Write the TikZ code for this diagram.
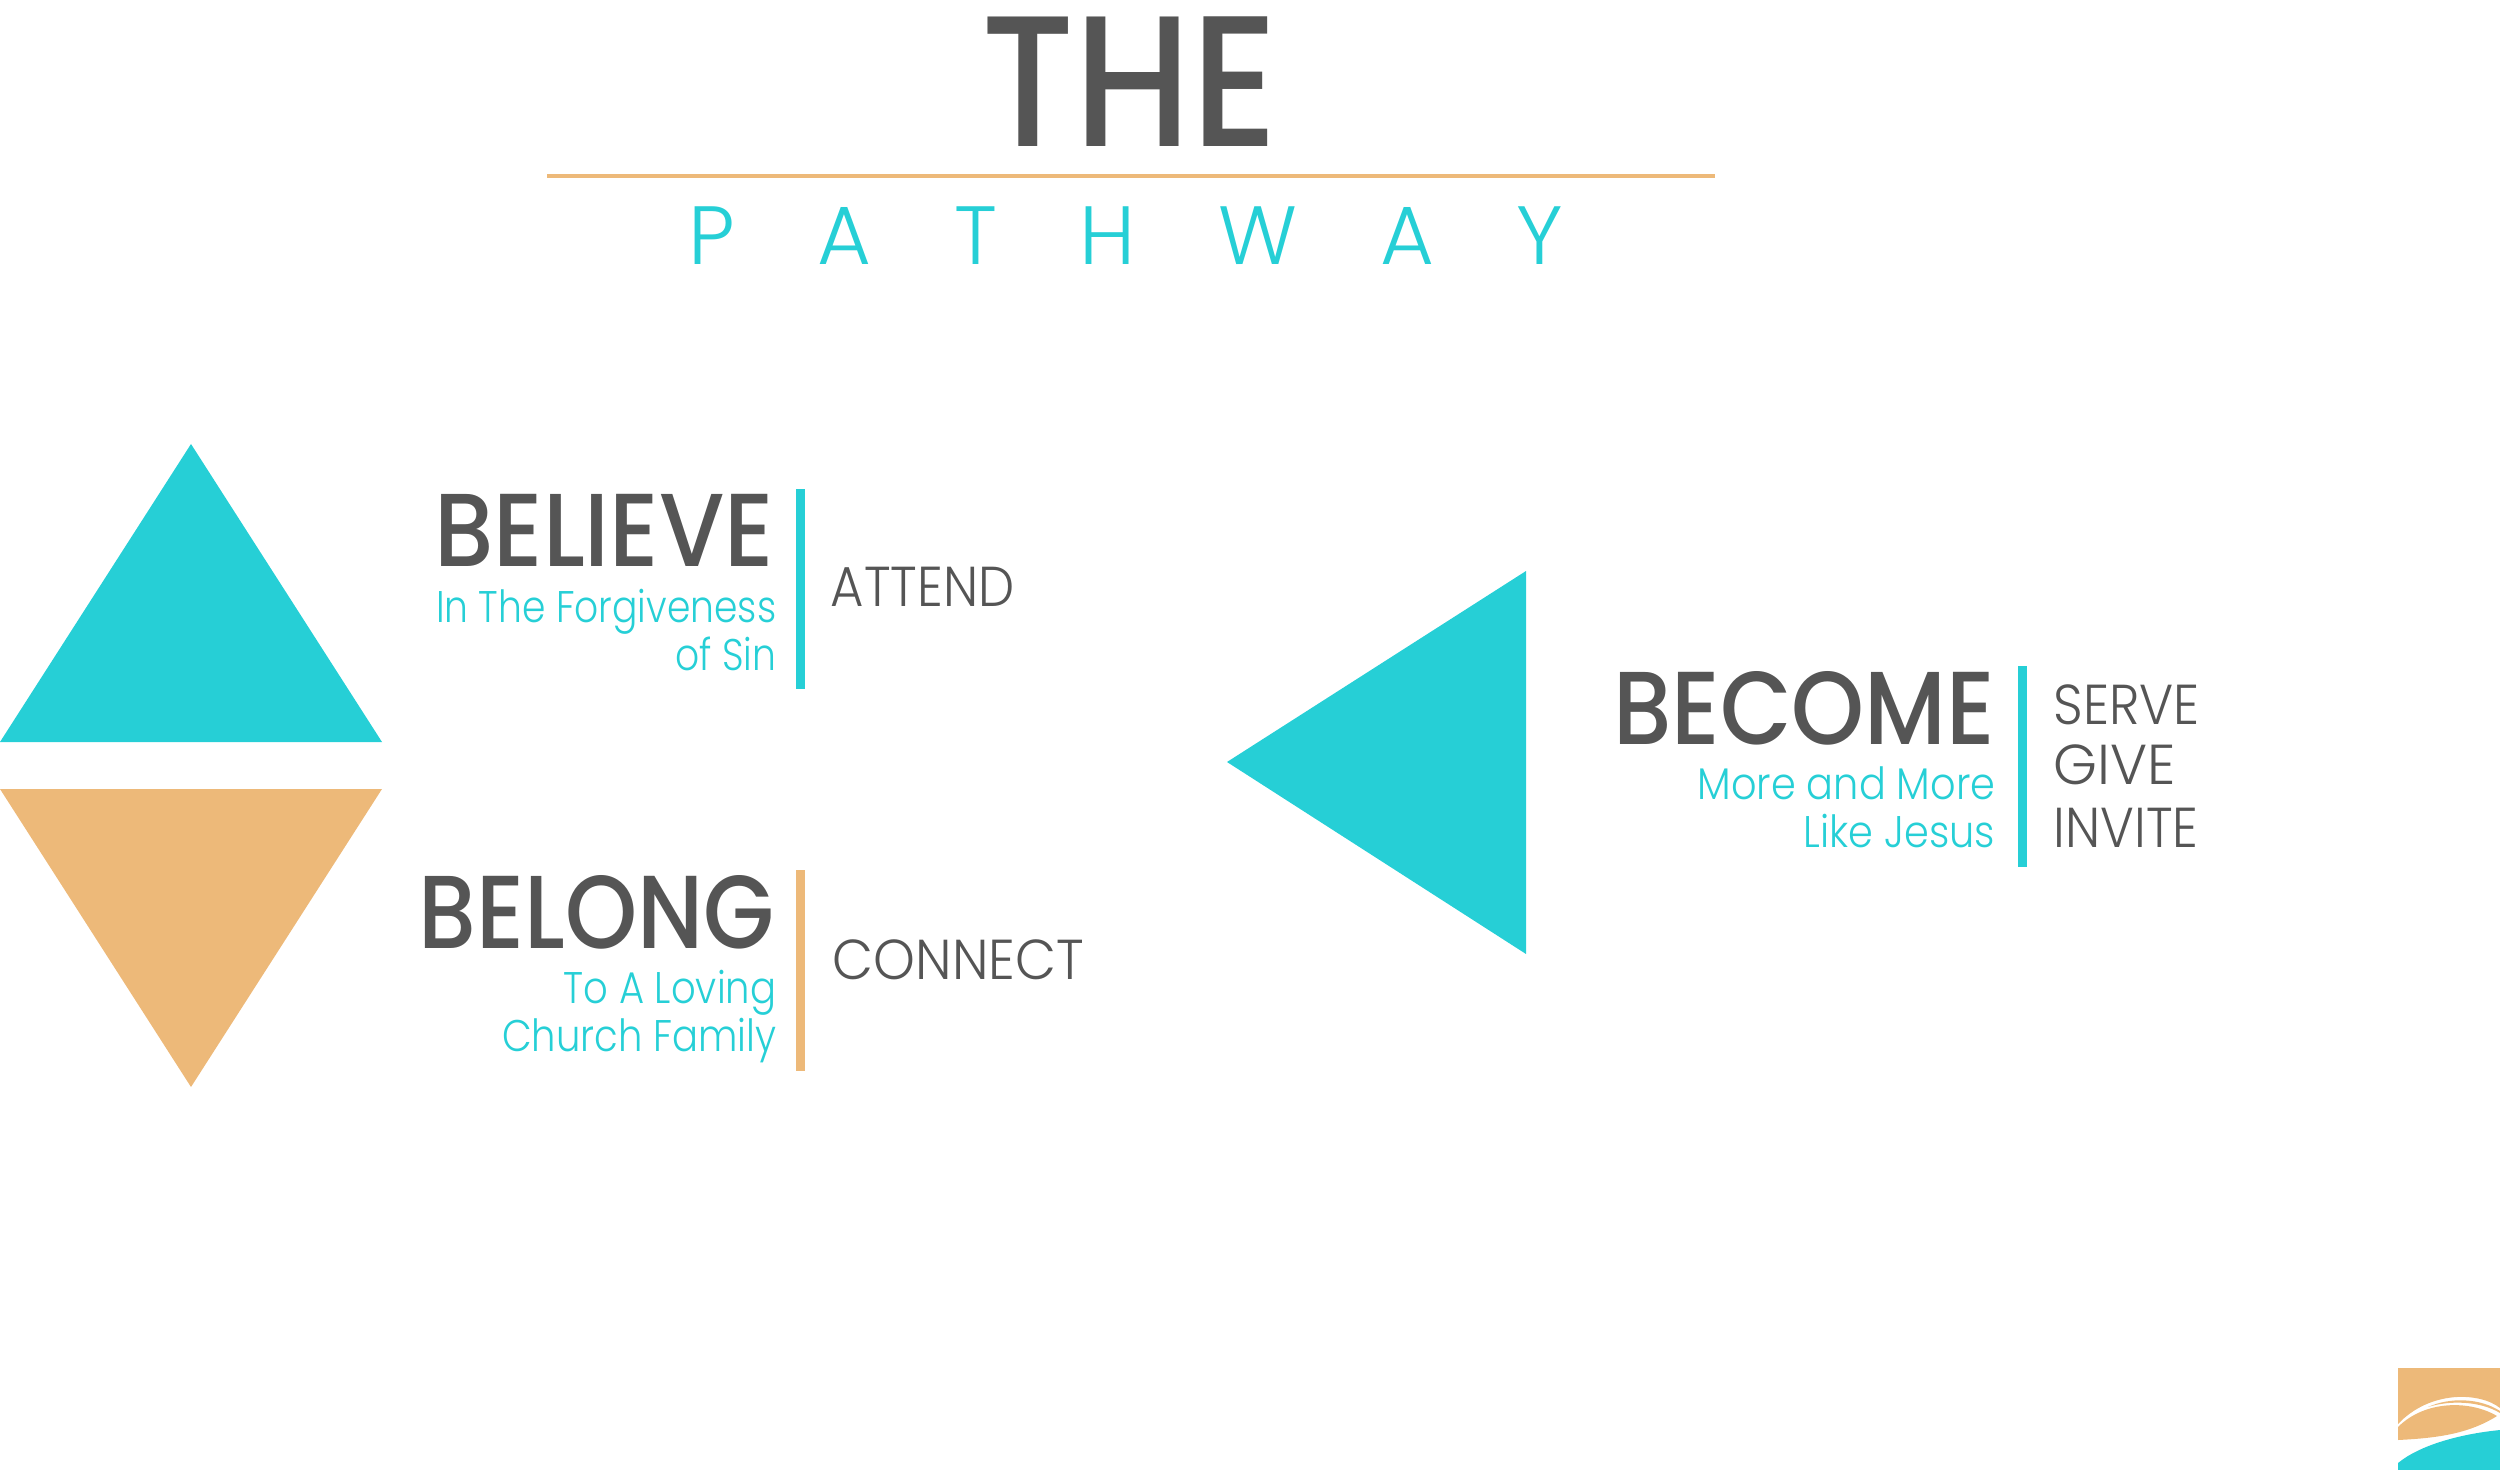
\documentclass[tikz,border=0pt]{standalone}
\usepackage{fontspec}
\setmainfont{Poppins}
\newfontfamily\thinfont{Poppins Light}
\newfontfamily\headfont{Poppins Medium}
\definecolor{pathteal}{HTML}{26CFD6}
\definecolor{pathtan}{HTML}{EDB979}
\definecolor{pathgrey}{HTML}{555555}
\begin{document}
\begin{tikzpicture}[x=0.01cm,y=-0.01cm,
  head/.style={anchor=base east,inner sep=0,text=pathgrey,font=\headfont\fontsize{29.5}{30}\selectfont},
  sub/.style={anchor=base east,inner sep=0,align=right,text=pathteal,font=\thinfont\fontsize{12.6}{13.65}\selectfont},
  act/.style={anchor=base west,inner sep=0,text=pathgrey,font=\thinfont\fontsize{16}{16}\selectfont},
]
  \useasboundingbox (0,0) rectangle (2500,1470);

  % title
  \node[inner sep=0,anchor=base,text=pathgrey,font=\headfont\fontsize{53}{53}\selectfont] (the) at (1130,147) {\addfontfeature{FakeStretch=0.89}THE};
  \draw[pathtan,line width=1pt] (547,176) -- (1715,176);
  \node[inner sep=0,anchor=base,text=pathteal,font=\thinfont\fontsize{23.5}{23.5}\selectfont] (pathway) at (1126,265) {\addfontfeature{LetterSpace=100}PATHWAY};

  % triangles
  \fill[pathteal] (0,742) -- (382,742) -- (191,444) -- cycle;
  \fill[pathtan] (0,789) -- (382,789) -- (191,1087) -- cycle;
  \fill[pathteal] (1526,571) -- (1526,954) -- (1227,762) -- cycle;

  % bars
  \foreach \col/\x/\ya/\yb in {pathteal/796/489/689,pathtan/796/870/1071,pathteal/2018/666/867} {
    \fill[\col] (\x,\ya) rectangle (\x+9,\yb);
  }

  % believe
  \node[head] (believe) at (775,566) {\addfontfeature{FakeStretch=0.91}BELIEVE};
  \node[sub] (forgive) at (777,670) {\addfontfeature{FakeStretch=0.85}In The Forgiveness\\\addfontfeature{FakeStretch=0.85}of Sin};
  \node[act] (attend) at (830,606) {\addfontfeature{FakeStretch=0.91}ATTEND};

  % belong
  \node[head] (belong) at (775,948) {\addfontfeature{FakeStretch=0.885}BELONG};
  \node[sub] (loving) at (777,1051) {\addfontfeature{FakeStretch=0.87}To A Loving\\\addfontfeature{FakeStretch=0.87}Church Family};
  \node[act] (connect) at (832,979) {\addfontfeature{FakeStretch=0.945}CONNECT};

  % become
  \node[head] (become) at (1996,744) {\addfontfeature{FakeStretch=0.895}BECOME};
  \node[sub] (more) at (1996,847) {\addfontfeature{FakeStretch=0.9}More and More\\\addfontfeature{FakeStretch=0.9}Like Jesus};
  \node[act] (serve) at (2053,724) {\addfontfeature{FakeStretch=0.92}SERVE};
  \node[act] (give) at (2053,784) {GIVE};
  \node[act] (invite) at (2053,847) {\addfontfeature{FakeStretch=0.91}INVITE};

  % logo
  \fill[pathtan] (2398,1368) -- (2500,1368) -- (2500,1408) .. controls (2480,1392) and (2430,1390) .. (2398,1424) -- cycle;
  \fill[pathtan] (2428,1407) .. controls (2450,1397) and (2480,1398) .. (2500,1411) -- (2500,1413) .. controls (2480,1401) and (2450,1400) .. (2428,1407) -- cycle;
  \fill[pathtan] (2398,1427) .. controls (2425,1400) and (2470,1400) .. (2497,1416) .. controls (2470,1433) and (2440,1438) .. (2398,1440) -- cycle;
  \fill[pathteal] (2398,1463) .. controls (2420,1445) and (2460,1434) .. (2500,1430) -- (2500,1470) -- (2398,1470) -- cycle;
\end{tikzpicture}
\end{document}
